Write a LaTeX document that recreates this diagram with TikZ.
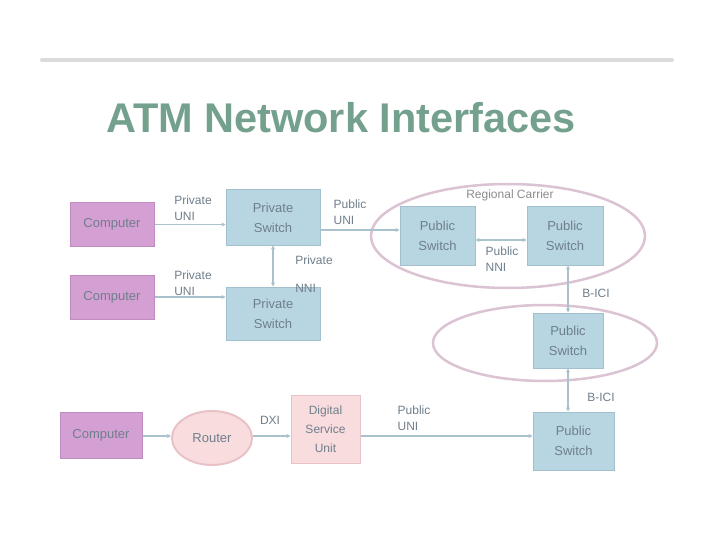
\documentclass[tikz,border=0pt]{standalone}
\usepackage{fontspec}
\setmainfont{Liberation Sans}
\usetikzlibrary{shapes.geometric,arrows.meta}
\definecolor{compfill}{HTML}{D49FD3}
\definecolor{compdraw}{HTML}{C08CC0}
\definecolor{swfill}{HTML}{B8D5E2}
\definecolor{swdraw}{HTML}{A2C0CE}
\definecolor{pinkfill}{HTML}{F8DCDE}
\definecolor{pinkdraw}{HTML}{E8C2C6}
\definecolor{ringcol}{HTML}{DCC3D4}
\definecolor{linecol}{HTML}{A9C2CD}
\definecolor{titlecol}{HTML}{74A18D}
\definecolor{txtcol}{HTML}{6F7F8C}
\begin{document}
\begin{tikzpicture}[x=1pt,y=-1pt,
  comp/.style={draw=compdraw,fill=compfill,line width=1pt,minimum width=84pt,minimum height=44pt,font=\fontsize{13}{16}\selectfont,text=txtcol},
  sw/.style={draw=swdraw,fill=swfill,line width=1pt,align=center,font=\fontsize{13}{20}\selectfont,text=txtcol},
  lbl/.style={align=left,font=\fontsize{12}{16}\selectfont,text=txtcol,inner sep=1pt},
  twoway/.style={{Stealth[length=4pt,width=4pt]}-{Stealth[length=4pt,width=4pt]}},
  conn/.style={draw=linecol,line width=1.5pt,-{Stealth[length=4pt,width=4pt]}},
  ring/.style={draw=ringcol,line width=2.5pt}]
\useasboundingbox (0,0) rectangle (720,540);
\fill[white] (0,0) rectangle (720,540);
% top rule
\draw[line width=4pt,draw=black!14,line cap=round] (42,60) -- (672,60);
% title
\node[font=\bfseries\fontsize{41.5}{46}\selectfont,text=titlecol] (title) at (341,118) {ATM Network Interfaces};
% rings
\draw[ring] (508,236) ellipse [x radius=137,y radius=52];
\draw[ring] (545,343) ellipse [x radius=112,y radius=38];
\node[lbl,text=black!45] (rc) at (510,195) {Regional Carrier};
% computers
\node[comp] (c1) at (112,224.5) {Computer};
\node[comp] (c2) at (112,297) {Computer};
\node[comp,minimum width=82pt,minimum height=46pt] (c3) at (101,435) {Computer};
% switches
\node[sw,minimum width=94pt,minimum height=55pt] (ps1) at (273,217.5) {Private\\Switch};
\node[sw,minimum width=94pt,minimum height=53pt] (ps2) at (273,313.5) {Private\\Switch};
\node[sw,minimum width=75pt,minimum height=58pt] (pa) at (437.5,236) {Public\\Switch};
\node[sw,minimum width=76pt,minimum height=58pt] (pb) at (565,236) {Public\\Switch};
\node[sw,minimum width=70pt,minimum height=55pt] (pc) at (568,340.5) {Public\\Switch};
\node[sw,minimum width=81pt,minimum height=58pt] (pd) at (573.5,441) {Public\\Switch};
% router and DSU
\node[ellipse,draw=pinkdraw,fill=pinkfill,line width=2pt,minimum width=80pt,minimum height=54pt,font=\fontsize{13}{16}\selectfont,text=txtcol] (router) at (212,438) {Router};
\node[sw,draw=pinkdraw,fill=pinkfill,minimum width=69pt,minimum height=68pt,font=\fontsize{12}{19}\selectfont] (dsu) at (325.5,429) {Digital\\Service\\Unit};
% connectors
\draw[conn] (c1.east) -- (ps1.west |- c1.east);
\draw[conn] (c2.east) -- (ps2.west |- c2.east);
\draw[conn,twoway] (ps1.south) -- (ps2.north);
\draw[conn] (ps1.east |- 0,230) -- (pa.west |- 0,230);
\draw[conn,twoway] (pa.east |- 0,240) -- (pb.west |- 0,240);
\draw[conn,twoway] (pb.south -| 568,0) -- (pc.north);
\draw[conn,twoway] (pc.south) -- (pd.north -| pc.south);
\draw[conn] (c3.east |- 0,436) -- (router.west |- 0,436);
\draw[conn] (router.east |- 0,436) -- (dsu.west |- 0,436);
\draw[conn] (dsu.east |- 0,436) -- (pd.west |- 0,436);
% labels
\node[lbl] (l1) at (193,208) {Private\\UNI};
\node[lbl] (l2) at (193,283) {Private\\UNI};
\node[lbl] (l3) at (350,212) {Public\\UNI};
\node[lbl] (l4) at (314,274) {Private\\[12pt]NNI};
\node[lbl] (l5) at (502,259) {Public\\NNI};
\node[lbl] (l6) at (596,293) {B-ICI};
\node[lbl] (l7) at (601,397) {B-ICI};
\node[lbl] (l8) at (270,420) {DXI};
\node[lbl] (l9) at (414,418) {Public\\UNI};
\end{tikzpicture}
\end{document}
